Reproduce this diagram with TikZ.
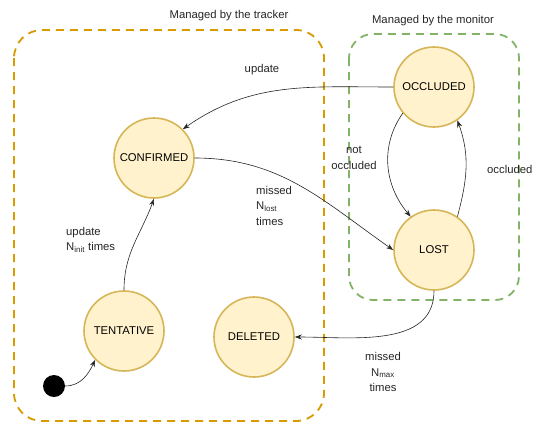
\documentclass[tikz,border=0pt]{standalone}
\usepackage{fontspec}
\setmainfont{Liberation Sans}
\usetikzlibrary{arrows.meta}
\definecolor{stfill}{HTML}{FFF2CC}
\definecolor{stdraw}{HTML}{D6B656}
\definecolor{trk}{HTML}{D79B00}
\definecolor{mon}{HTML}{82B366}
\tikzset{
  state/.style={circle, fill=stfill, draw=stdraw, line width=1.6pt, minimum size=80pt, inner sep=0pt, font=\fontsize{11.3}{13}\selectfont},
  group/.style={line width=1.8pt, dash pattern=on 8pt off 6pt, rounded corners=28pt},
  trans/.style={draw=black!85, line width=0.6pt, -{Stealth[length=7pt,width=5pt]}},
  lbl/.style={font=\fontsize{11.3}{15.5}\selectfont, inner sep=0pt, text=black!85}
}
\begin{document}
\begin{tikzpicture}[x=1pt,y=-1pt]
\useasboundingbox (0,0) rectangle (533,424);
\fill[white] (0,0) rectangle (533,424);
\draw[group, draw=trk] (14,30) rectangle (324,421);
\draw[group, draw=mon, rounded corners=24pt] (349,34) rectangle (519,300);
\node[lbl] (tl) at (229,16) {Managed by the tracker};
\node[lbl] (ml) at (433,21) {Managed by the monitor};

\node[state] (occ) at (434,87) {OCCLUDED};
\node[state] (conf) at (154,158) {CONFIRMED};
\node[state] (lost) at (434,250) {LOST};
\node[state] (tent) at (124,331) {TENTATIVE};
\node[state] (del) at (254,337) {DELETED};
\node[circle, fill=black, minimum size=22pt, inner sep=0pt] (init) at (54,386) {};

\draw[trans] (occ.west) to[out=180,in=35] (conf.north east);
\draw[trans] (conf.east) to[out=0,in=145] (lost.west);
\draw[trans] (occ.220) to[out=-125,in=130] (lost.125);
\draw[trans] (lost.55) to[out=75,in=-70] (occ.-55);
\draw[trans] (tent.north) to[out=90,in=-110] (conf.south);
\draw[trans] (lost.south) to[out=-90,in=0] (del.east);
\draw[trans] (init.east) to[out=0,in=-115] (tent.south west);

\node[lbl] (l1) at (262,70) {update};
\node[lbl, align=center] (l2) at (354,158) {not\\occluded};
\node[lbl, anchor=west] (l3) at (487,169) {occluded};
\node[lbl, align=left, anchor=north west] (l4) at (256,186) {missed\\N\textsubscript{lost}\\times};
\node[lbl, align=left, anchor=north west] (l5) at (66,227) {update\\N\textsubscript{init} times};
\node[lbl, align=center] (l6) at (383,372) {missed\\N\textsubscript{max}\\times};
\end{tikzpicture}
\end{document}
